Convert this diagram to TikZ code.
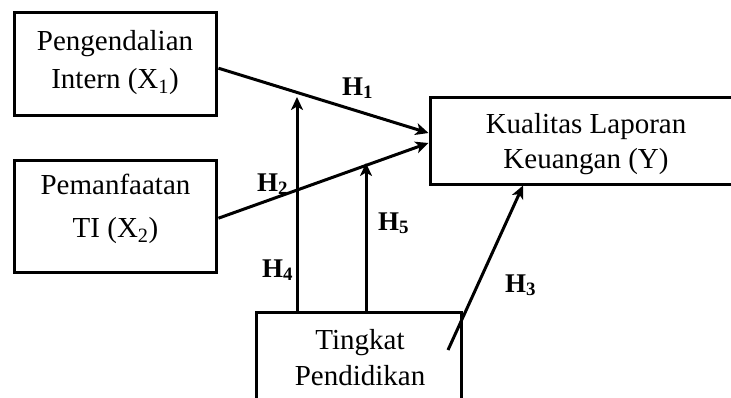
\documentclass[tikz,border=0pt]{standalone}
\usepackage{fontspec}
\setmainfont{Liberation Serif}
\usetikzlibrary{arrows.meta}
\begin{document}
\begin{tikzpicture}[x=1pt,y=-1pt,
  box/.style={draw,line width=3pt,rectangle,inner sep=0pt},
  txt/.style={align=center,inner sep=0pt,anchor=base},
  hyp/.style={inner sep=0pt,anchor=base west,font={\fontsize{27}{32}\selectfont\bfseries}},
  arr/.style={line width=3pt,-{Stealth[length=13pt,width=12pt,inset=3.5pt]}}]
\useasboundingbox (0,0) rectangle (731,397);
\clip (0,0) rectangle (731,397);
% boxes
\node[box,minimum width=202.3pt,minimum height=103pt] (x1) at (115.8,64.2) {};
\node[box,minimum width=202.3pt,minimum height=111.7pt] (x2) at (115.8,216.2) {};
\node[box,minimum width=360pt,minimum height=87pt] (y) at (610,140.5) {};
\node[box,minimum width=205pt,minimum height=128pt] (t) at (359,376) {};
% texts
\node[txt,font={\fontsize{29}{38}\selectfont}] (x1t) at (115,88.3) {Pengendalian\\Intern (X\textsubscript{1})};
\node[txt,font={\fontsize{29}{43}\selectfont}] (x2t) at (115.5,237.3) {Pemanfaatan\\TI (X\textsubscript{2})};
\node[txt,font={\fontsize{29}{35}\selectfont}] (yt) at (586,168.3) {Kualitas Laporan\\Keuangan (Y)};
\node[txt,font={\fontsize{29}{36}\selectfont}] (tt) at (360,385) {Tingkat\\Pendidikan};
% connector end points
\coordinate (a1s) at ([yshift=-4pt]x1.east);
\coordinate (a1e) at ([yshift=7.5pt]y.west);
\coordinate (a2s) at ([yshift=-2pt]x2.east);
\coordinate (a2e) at ([yshift=-2.5pt]y.west);
\coordinate (h4s) at ([xshift=-62pt]t.north);
\coordinate (h4e) at (297,97);
\coordinate (h5s) at ([xshift=7pt]t.north);
\coordinate (h5e) at (366,163);
\coordinate (h3s) at (448,350);
\coordinate (h3e) at ([xshift=-87pt]y.south);
% connectors
\draw[arr] (a1s) -- (a1e);
\draw[arr] (a2s) -- (a2e);
\draw[arr] (h4s) -- (h4e);
\draw[arr] (h5s) -- (h5e);
\draw[arr] (h3s) -- (h3e);
% labels
\node[hyp] (l1) at (342,95) {H\textsubscript{1}};
\node[hyp] (l2) at (257,191) {H\textsubscript{2}};
\node[hyp] (l3) at (505,292) {H\textsubscript{3}};
\node[hyp] (l4) at (262,277) {H\textsubscript{4}};
\node[hyp] (l5) at (378,230) {H\textsubscript{5}};
\end{tikzpicture}
\end{document}
